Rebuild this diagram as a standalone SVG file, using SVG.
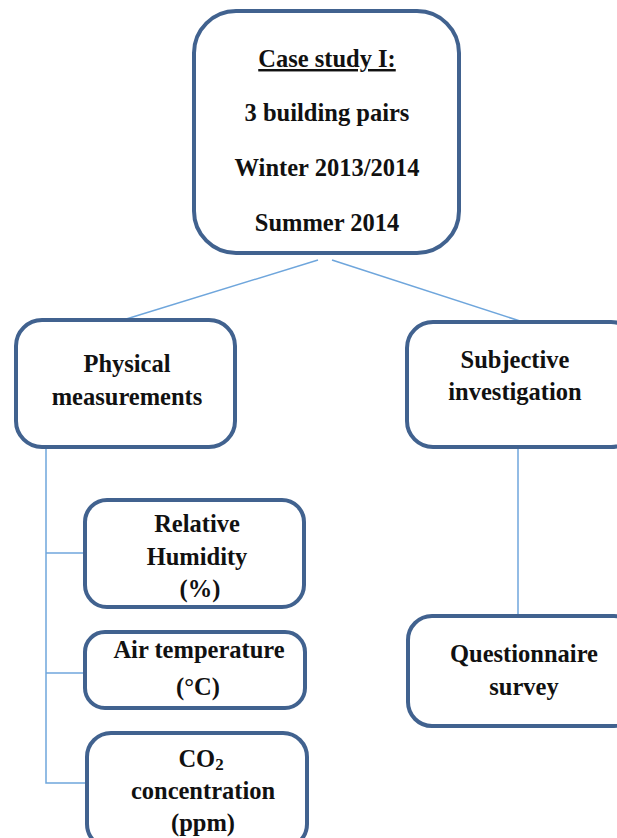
<svg xmlns="http://www.w3.org/2000/svg" width="617" height="838" viewBox="0 0 617 838">
<style>
.box{fill:#fff;stroke:#41628f;stroke-width:4}
.t{font-family:"Liberation Serif",serif;font-weight:bold;font-size:24.5px;fill:#111;text-anchor:middle}
.c{stroke:#6fa6dc;stroke-width:1.5;fill:none}
</style>
<rect width="617" height="838" fill="#fff"/>
<g id="connectors">
<line class="c" x1="318" y1="260" x2="123" y2="320"/>
<line class="c" x1="332" y1="260" x2="520" y2="321"/>
<polyline class="c" points="46,448 46,783 87,783"/>
<line class="c" x1="46" y1="553" x2="85" y2="553"/>
<line class="c" x1="46" y1="673" x2="85" y2="673"/>
<line class="c" x1="518" y1="449" x2="518" y2="616"/>
</g>
<g id="case">
<rect class="box" x="194" y="11" width="265" height="242" rx="42"/>
<text class="t" x="327" y="67" text-decoration="underline">Case study I:</text>
<text class="t" x="327" y="121">3 building pairs</text>
<text class="t" x="327" y="176">Winter 2013/2014</text>
<text class="t" x="327" y="231">Summer 2014</text>
</g>
<g id="physical">
<rect class="box" x="16" y="320" width="219" height="127" rx="26"/>
<text class="t" x="127" y="372">Physical</text>
<text class="t" x="127" y="405">measurements</text>
</g>
<g id="subjective">
<rect class="box" x="407" y="322" width="230" height="125" rx="26"/>
<text class="t" x="515" y="368">Subjective</text>
<text class="t" x="515" y="400">investigation</text>
</g>
<g id="rh">
<rect class="box" x="85" y="500" width="219" height="107" rx="22"/>
<text class="t" x="197" y="532">Relative</text>
<text class="t" x="197" y="565">Humidity</text>
<text class="t" x="200" y="597">(%)</text>
</g>
<g id="air">
<rect class="box" x="85" y="632" width="220" height="76" rx="20"/>
<text class="t" x="199" y="658">Air temperature</text>
<text class="t" x="198" y="695">(°C)</text>
</g>
<g id="co2">
<rect class="box" x="87" y="733" width="220" height="115" rx="24"/>
<text class="t" x="201" y="767">CO<tspan font-size="17" dy="3">2</tspan></text>
<text class="t" x="203" y="799">concentration</text>
<text class="t" x="203" y="831">(ppm)</text>
</g>
<g id="questionnaire">
<rect class="box" x="408" y="616" width="230" height="110" rx="24"/>
<text class="t" x="524" y="662">Questionnaire</text>
<text class="t" x="524" y="695">survey</text>
</g>
</svg>
